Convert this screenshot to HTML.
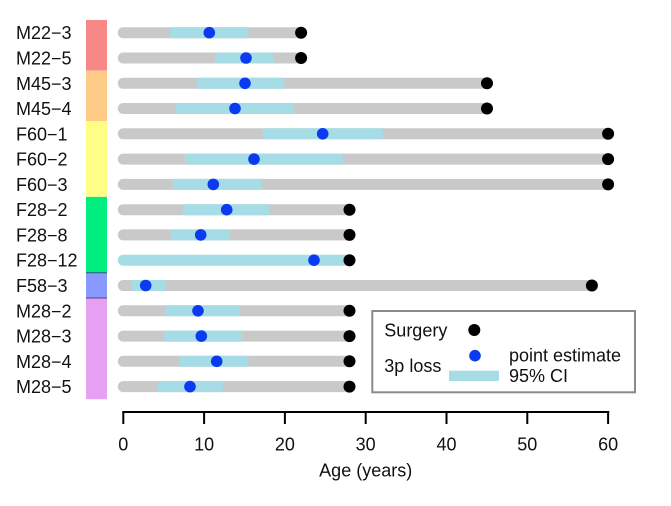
<!DOCTYPE html>
<html><head><meta charset="utf-8"><style>
html,body{margin:0;padding:0;background:#fff;}
svg{display:block;font-family:"Liberation Sans",Arial,sans-serif;}
</style></head><body>
<svg width="671" height="506" viewBox="0 0 671 506" xmlns="http://www.w3.org/2000/svg">
<rect width="671" height="506" fill="#fff"/>
<!-- color bar -->
<rect x="86" y="20" width="21" height="50.6" fill="#F88888"/>
<rect x="86" y="70.6" width="21" height="50.5" fill="#FFCC88"/>
<rect x="86" y="121.1" width="21" height="75.8" fill="#FFFF88"/>
<rect x="86" y="196.9" width="21" height="75.8" fill="#00EE80"/>
<rect x="86" y="272.7" width="21" height="25.3" fill="#8899FF"/>
<rect x="86" y="298" width="21" height="101.2" fill="#E8A0F5"/>
<line x1="86" y1="272.7" x2="107" y2="272.7" stroke="#335577" stroke-width="1"/>
<line x1="86" y1="298" x2="107" y2="298" stroke="#554477" stroke-width="1"/>

<g font-size="18" fill="#111">
<text x="16" y="39.2">M22−3</text>
<text x="16" y="64.5">M22−5</text>
<text x="16" y="89.8">M45−3</text>
<text x="16" y="115">M45−4</text>
<text x="16" y="140.3">F60−1</text>
<text x="16" y="165.6">F60−2</text>
<text x="16" y="190.9">F60−3</text>
<text x="16" y="216.2">F28−2</text>
<text x="16" y="241.4">F28−8</text>
<text x="16" y="266.7">F28−12</text>
<text x="16" y="292">F58−3</text>
<text x="16" y="317.3">M28−2</text>
<text x="16" y="342.6">M28−3</text>
<text x="16" y="367.8">M28−4</text>
<text x="16" y="393.1">M28−5</text>
</g>

<!-- gray bars -->
<g stroke="#C9C9C9" stroke-width="11" stroke-linecap="round">
<line x1="123.3" y1="32.7" x2="301.1" y2="32.7"/>
<line x1="123.3" y1="58" x2="301.1" y2="58"/>
<line x1="123.3" y1="83.3" x2="487" y2="83.3"/>
<line x1="123.3" y1="108.5" x2="487" y2="108.5"/>
<line x1="123.3" y1="133.8" x2="608.1" y2="133.8"/>
<line x1="123.3" y1="159.1" x2="608.1" y2="159.1"/>
<line x1="123.3" y1="184.4" x2="608.1" y2="184.4"/>
<line x1="123.3" y1="209.7" x2="349.5" y2="209.7"/>
<line x1="123.3" y1="234.9" x2="349.5" y2="234.9"/>
<line x1="123.3" y1="285.5" x2="591.9" y2="285.5"/>
<line x1="123.3" y1="310.8" x2="349.5" y2="310.8"/>
<line x1="123.3" y1="336.1" x2="349.5" y2="336.1"/>
<line x1="123.3" y1="361.3" x2="349.5" y2="361.3"/>
<line x1="123.3" y1="386.6" x2="349.5" y2="386.6"/>
</g>
<!-- CI -->
<g stroke="#A5DCE6" stroke-width="11">
<line x1="170" y1="32.7" x2="248.3" y2="32.7"/>
<line x1="215" y1="58" x2="273.3" y2="58"/>
<line x1="196.7" y1="83.3" x2="284.3" y2="83.3"/>
<line x1="176" y1="108.5" x2="294" y2="108.5"/>
<line x1="262.7" y1="133.8" x2="382.7" y2="133.8"/>
<line x1="185" y1="159.1" x2="342.7" y2="159.1"/>
<line x1="173.3" y1="184.4" x2="261.7" y2="184.4"/>
<line x1="182.7" y1="209.7" x2="269.3" y2="209.7"/>
<line x1="170.7" y1="234.9" x2="230" y2="234.9"/>
<line x1="123.3" y1="260.2" x2="349.5" y2="260.2" stroke-linecap="round"/>
<line x1="131.7" y1="285.5" x2="165.7" y2="285.5"/>
<line x1="165.7" y1="310.8" x2="239" y2="310.8"/>
<line x1="164.3" y1="336.1" x2="241.7" y2="336.1"/>
<line x1="180" y1="361.3" x2="248.3" y2="361.3"/>
<line x1="157.7" y1="386.6" x2="222.7" y2="386.6"/>
</g>
<!-- point estimates -->
<g fill="#0A3BF0">
<circle cx="209.3" cy="32.7" r="5.8"/>
<circle cx="246" cy="58" r="5.8"/>
<circle cx="245" cy="83.3" r="5.8"/>
<circle cx="235" cy="108.5" r="5.8"/>
<circle cx="322.7" cy="133.8" r="5.8"/>
<circle cx="254" cy="159.1" r="5.8"/>
<circle cx="213.3" cy="184.4" r="5.8"/>
<circle cx="226.7" cy="209.7" r="5.8"/>
<circle cx="200.7" cy="234.9" r="5.8"/>
<circle cx="314" cy="260.2" r="5.8"/>
<circle cx="145.7" cy="285.5" r="5.8"/>
<circle cx="198" cy="310.8" r="5.8"/>
<circle cx="201.3" cy="336.1" r="5.8"/>
<circle cx="216.7" cy="361.3" r="5.8"/>
<circle cx="190" cy="386.6" r="5.8"/>
</g>
<!-- surgery -->
<g fill="#000">
<circle cx="301.1" cy="32.7" r="6"/>
<circle cx="301.1" cy="58" r="6"/>
<circle cx="487" cy="83.3" r="6"/>
<circle cx="487" cy="108.5" r="6"/>
<circle cx="608.1" cy="133.8" r="6"/>
<circle cx="608.1" cy="159.1" r="6"/>
<circle cx="608.1" cy="184.4" r="6"/>
<circle cx="349.5" cy="209.7" r="6"/>
<circle cx="349.5" cy="234.9" r="6"/>
<circle cx="349.5" cy="260.2" r="6"/>
<circle cx="591.9" cy="285.5" r="6"/>
<circle cx="349.5" cy="310.8" r="6"/>
<circle cx="349.5" cy="336.1" r="6"/>
<circle cx="349.5" cy="361.3" r="6"/>
<circle cx="349.5" cy="386.6" r="6"/>
</g>

<!-- legend -->
<rect x="372.3" y="311" width="262.7" height="81.3" fill="#fff" stroke="#8a8a8a" stroke-width="2"/>
<g font-size="18" fill="#111">
<text x="384.3" y="336.5">Surgery</text>
<text x="384.3" y="372">3p loss</text>
<text x="509" y="361.5">point estimate</text>
<text x="509" y="382">95% CI</text>
</g>
<circle cx="474.3" cy="330" r="6" fill="#000"/>
<circle cx="475" cy="355.7" r="5.8" fill="#0A3BF0"/>
<rect x="449" y="370.7" width="50" height="10.3" fill="#A5DCE6"/>

<!-- axis -->
<g stroke="#000" stroke-width="2">
<line x1="122.3" y1="412" x2="609.3" y2="412"/>
<line x1="123.3" y1="412" x2="123.3" y2="424"/>
<line x1="204.1" y1="412" x2="204.1" y2="424"/>
<line x1="284.9" y1="412" x2="284.9" y2="424"/>
<line x1="365.7" y1="412" x2="365.7" y2="424"/>
<line x1="446.5" y1="412" x2="446.5" y2="424"/>
<line x1="527.3" y1="412" x2="527.3" y2="424"/>
<line x1="608.1" y1="412" x2="608.1" y2="424"/>
</g>
<g font-size="18" fill="#111" text-anchor="middle">
<text x="123.3" y="450.5">0</text>
<text x="204.1" y="450.5">10</text>
<text x="284.9" y="450.5">20</text>
<text x="365.7" y="450.5">30</text>
<text x="446.5" y="450.5">40</text>
<text x="527.3" y="450.5">50</text>
<text x="608.1" y="450.5">60</text>
<text x="365.7" y="476.5">Age (years)</text>
</g>
</svg>
</body></html>
